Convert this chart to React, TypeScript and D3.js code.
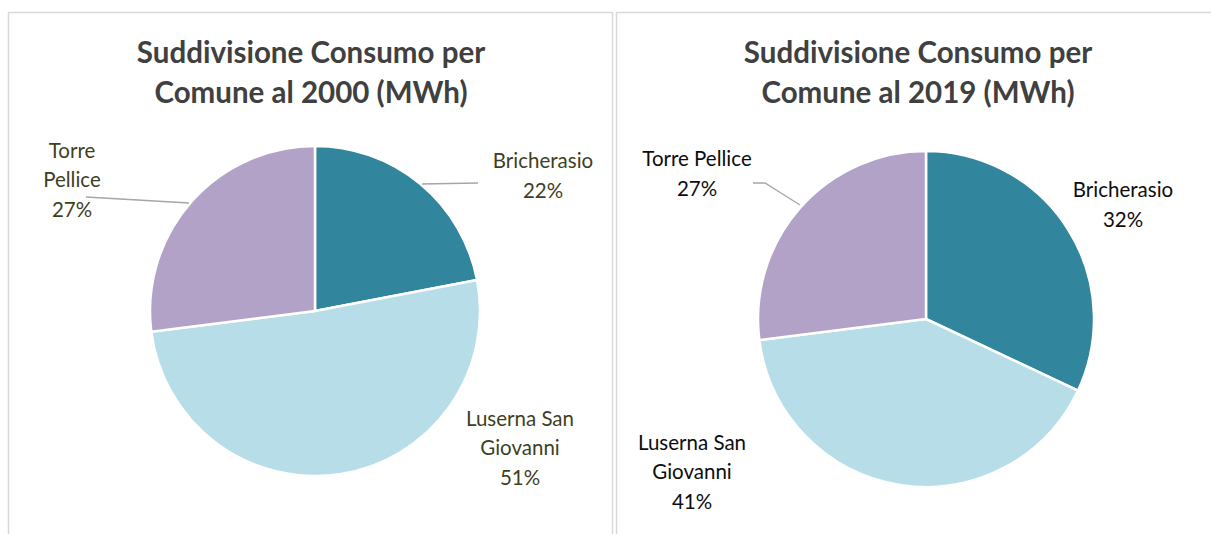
import * as d3 from "d3";

// categories and shares (%) as printed on the labels
const comuni = ["Bricherasio", "Luserna San Giovanni", "Torre Pellice"];
const share2000 = [22, 51, 27];
const share2019 = [32, 41, 27];
const titles = [
  ["Suddivisione Consumo per", "Comune al 2000 (MWh)"],
  ["Suddivisione Consumo per", "Comune al 2019 (MWh)"],
];
// label text split over lines (as drawn by Excel)
const labels2000 = [["Bricherasio"], ["Luserna San", "Giovanni"], ["Torre", "Pellice"]];
const labels2019 = [["Bricherasio"], ["Luserna San", "Giovanni"], ["Torre Pellice"]];

const colors = d3.scaleOrdinal<string, string>()
  .domain(comuni)
  .range(["#31859c", "#b7dee8", "#b3a2c7"]);

const FONT = "Lato, 'Open Sans', sans-serif";

interface PieProps {
  values: number[];
  lines: string[][];
  title: string[];
  cx: number;
  cy: number;
  r: number;
  labelPos: [number, number][];
  leaders: ([number, number][] | null)[];
  labelColor: string;
}

function Pie({ values, lines, title, cx, cy, r, labelPos, leaders, labelColor }: PieProps) {
  const pie = d3.pie<number>().sort(null).value((d) => d);
  const arc = d3.arc<d3.PieArcDatum<number>>().innerRadius(0).outerRadius(r);
  const arcs = pie(values);
  const line = d3.line();

  return (
    <g>
      <g fontFamily={FONT} fontWeight={700} fontSize={29.5} fill="#404040" textAnchor="middle">
        {title.map((t, i) => (
          <text key={i} x={0} y={63 + i * 40}>{t}</text>
        ))}
      </g>
      <g transform={`translate(${cx},${cy})`}>
        {arcs.map((a, i) => (
          <path key={i} d={arc(a) ?? ""} fill={colors(comuni[i])} stroke="#fff" strokeWidth={2.5} />
        ))}
      </g>
      {leaders.map((l, i) =>
        l ? <path key={i} d={line(l) ?? ""} fill="none" stroke="#a6a6a6" strokeWidth={1.3} /> : null
      )}
      <g fontFamily={FONT} fontSize={20.5} fill={labelColor} textAnchor="middle">
        {lines.map((ls, i) => {
          const all = [...ls, `${values[i]}%`];
          const [lx, ly] = labelPos[i];
          const y0 = ly - ((all.length - 1) * 29.5) / 2;
          return (
            <text key={i} x={lx}>
              {all.map((s, j) => (
                <tspan key={j} x={lx} y={y0 + j * 29.5} dy="0.35em">{s}</tspan>
              ))}
            </text>
          );
        })}
      </g>
    </g>
  );
}

export default function App() {
  return (
    <svg width={1211} height={534} style={{ position: "absolute", left: 0, top: 0, background: "#fff" }}>
      <rect x={0} y={0} width={1211} height={534} fill="#fff" />
      {/* panel frames */}
      <rect x={8.5} y={12.5} width={604} height={540} fill="none" stroke="#d9d9d9" strokeWidth={1.5} />
      <rect x={616.5} y={12.5} width={620} height={540} fill="none" stroke="#d9d9d9" strokeWidth={1.5} />

      <g transform="translate(311,0)">
        <Pie
          values={share2000}
          lines={labels2000}
          title={titles[0]}
          cx={4}
          cy={311}
          r={165}
          labelPos={[[232, 176], [209, 448], [-239, 180]]}
          leaders={[[[111, 184], [167, 183]], null, [[-225, 197], [-122, 203]]]}
          labelColor="#3f3f1f"
        />
      </g>
      <g transform="translate(918,0)">
        <Pie
          values={share2019}
          lines={labels2019}
          title={titles[1]}
          cx={8}
          cy={319}
          r={168}
          labelPos={[[205, 205], [-226, 472], [-221, 174]]}
          leaders={[null, null, [[-165, 183], [-153, 183], [-118, 205]]]}
          labelColor="#0d0d0d"
        />
      </g>
    </svg>
  );
}
